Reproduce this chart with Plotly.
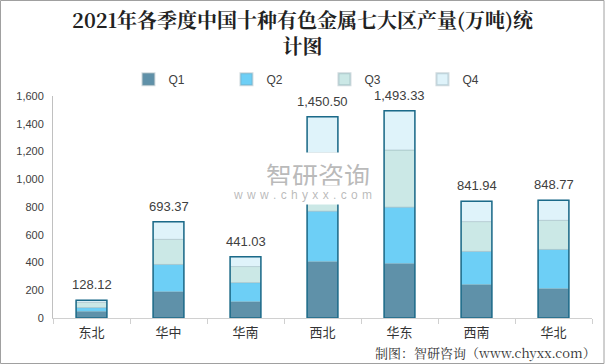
import plotly.graph_objects as go
import numpy as np

regions = ["东北", "华中", "华南", "西北", "华东", "西南", "华北"]
totals = [128.12, 693.37, 441.03, 1450.50, 1493.33, 841.94, 848.77]
q1 = [48, 190, 118, 408, 393, 241, 212]
q2 = [27, 196, 137, 362, 406, 239, 282]
q3 = [38, 181, 116, 422, 412, 215, 210]
q4 = [round(t - a - b - c, 2) for t, a, b, c in zip(totals, q1, q2, q3)]
series_names = ["Q1", "Q2", "Q3", "Q4"]
colors = ["#5f91a9", "#6dcff6", "#cbe8e6", "#dff3fa"]
y_ticks = [0, 200, 400, 600, 800, 1000, 1200, 1400, 1600]

fig = go.Figure()
base = np.zeros(len(regions))
for name, vals, col in zip(series_names, [q1, q2, q3, q4], colors):
    fig.add_trace(go.Bar(
        x=regions, y=vals, base=base.copy(), name=name,
        marker=dict(color=col, line=dict(color="rgba(120,150,160,0.35)", width=0.8)),
        width=0.4, hoverinfo="x+y+name",
    ))
    base = base + np.array(vals)

fig.add_trace(go.Bar(
    x=regions, y=totals, base=[0] * len(regions), showlegend=False,
    marker=dict(color="rgba(0,0,0,0)", line=dict(color="#1b6a89", width=1.5)),
    width=0.4, hoverinfo="x+y",
))

label_annotations = [
    dict(x=r, y=t, xref="x", yref="y", text=f"{t:,.2f}", showarrow=False,
         yanchor="bottom", yshift=6,
         font=dict(size=13, color="#404040", family="Liberation Sans, Arial"))
    for r, t in zip(regions, totals)
]

wm_url = "\u00a0\u200a".join(list("www.chyxx.com"))

fig.update_layout(
    width=605, height=364,
    barmode="overlay",
    paper_bgcolor="white", plot_bgcolor="white",
    margin=dict(l=53, r=13, t=96, b=46),
    title=dict(
        text="2021年各季度中国十种有色金属七大区产量(万吨)统<br>计图",
        x=0.5, xanchor="center", yref="container", y=0.922, yanchor="top",
        font=dict(family="Noto Serif CJK SC, Noto Sans CJK SC", size=20, color="#222222", weight="bold"),
    ),
    legend=dict(
        orientation="h", x=0.140, xanchor="left", y=1.076, yanchor="middle",
        font=dict(size=12, color="#404040", family="Liberation Sans, Arial"),
        entrywidth=53, itemsizing="constant", traceorder="normal",
        itemwidth=30,
    ),
    xaxis=dict(
        showline=True, linecolor="#d0d0d0", linewidth=1,
        ticks="outside", tickcolor="#d0d0d0", ticklen=5, tickson="boundaries",
        tickfont=dict(size=13, color="#333333", family="Noto Sans CJK SC"),
        showgrid=False, ticklabelstandoff=2,
    ),
    yaxis=dict(
        range=[0, 1600], tickvals=y_ticks, tickformat=",",
        showline=True, linecolor="#c0c0c0", linewidth=1,
        showgrid=False, zeroline=False, ticklabelstandoff=6,
        tickfont=dict(size=11, color="#404040", family="Liberation Sans, Arial"),
    ),
    shapes=[dict(type="rect", xref="paper", yref="paper",
                 x0=-52.5/539, x1=1 + 12/539, y0=-45.5/222, y1=1 + 95.5/222,
                 line=dict(color="#a0a0a0", width=1), fillcolor="rgba(0,0,0,0)")],
    annotations=label_annotations + [
        dict(text="制图：智研咨询（www.chyxx.com）", xref="paper", yref="paper",
             x=1.011, y=-0.155, xanchor="right", yanchor="middle", showarrow=False,
             font=dict(size=13, color="#333333", family="Noto Serif CJK SC, Noto Sans CJK SC")),
        dict(text="智研咨询", xref="paper", yref="paper", x=0.4917, y=0.6486,
             showarrow=False, bgcolor="white", borderpad=3,
             font=dict(size=26, color="rgba(140,140,140,0.6)", family="Noto Sans CJK SC")),
        dict(text=wm_url, xref="paper", yref="paper", x=0.462, y=0.554,
             showarrow=False, bgcolor="white", borderpad=2,
             font=dict(size=12, color="rgba(140,140,140,0.6)", family="Liberation Sans, Arial")),
    ],
)

fig.write_html("out.html", post_script="document.body.style.margin='0';",
               config={"displayModeBar": False})
